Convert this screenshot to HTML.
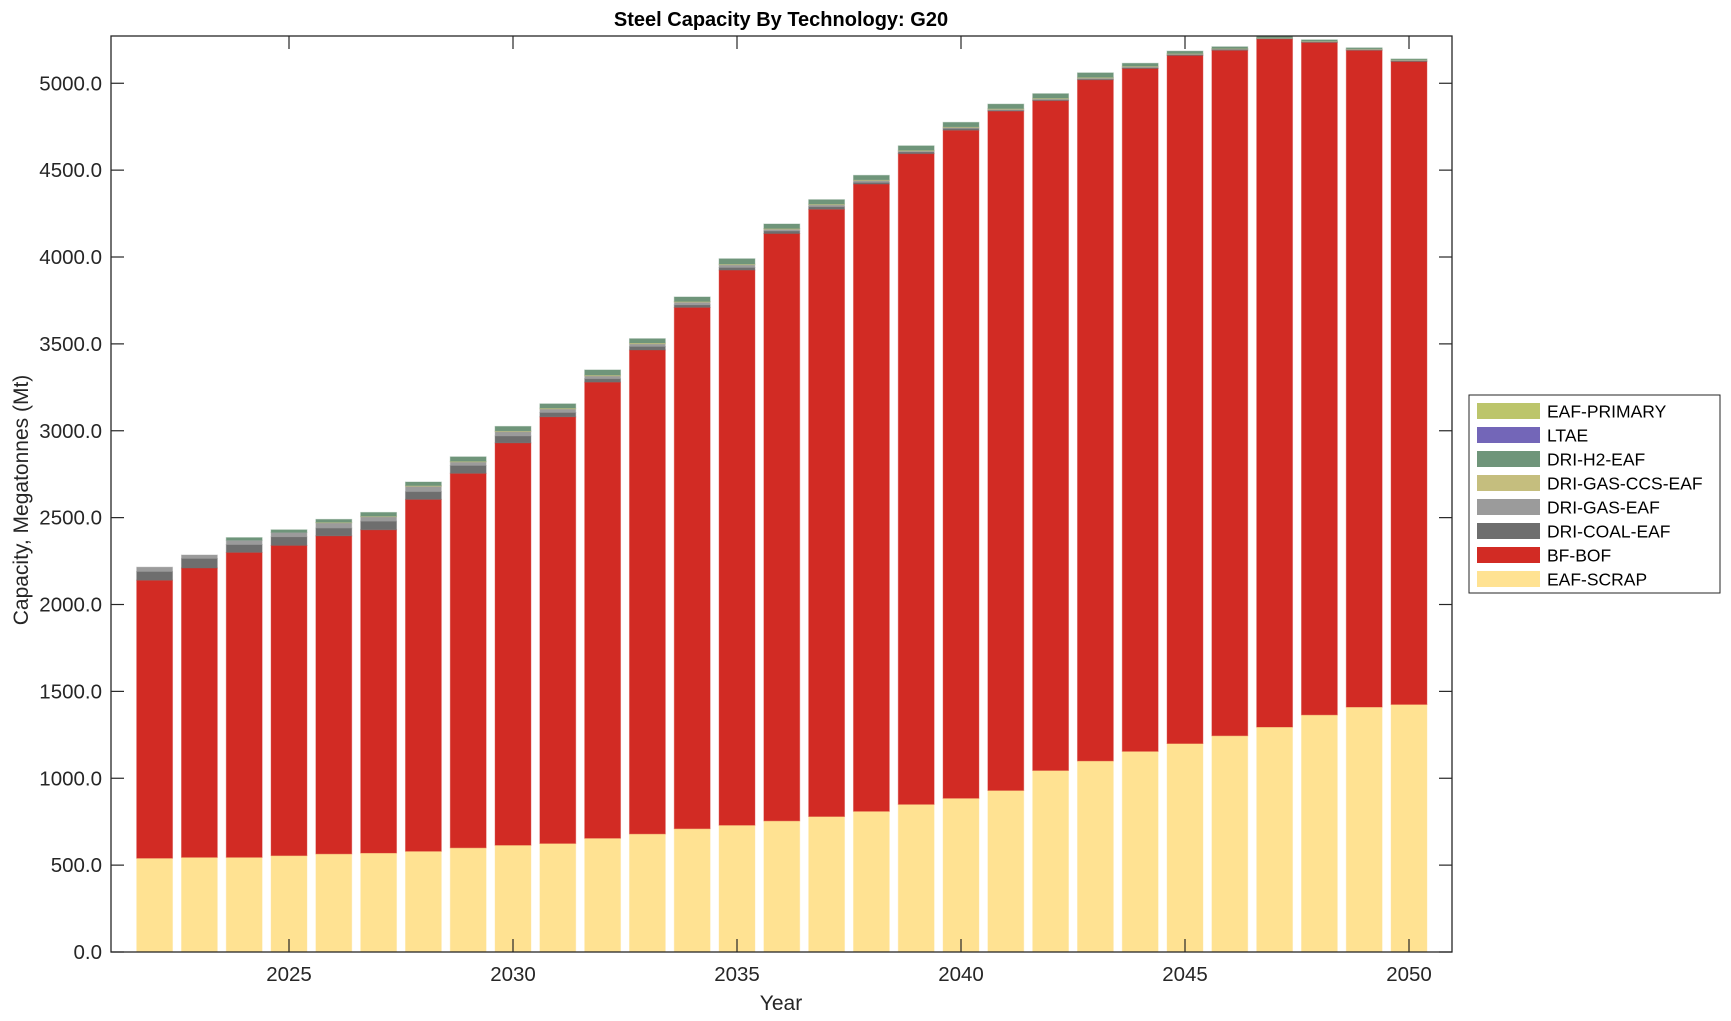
<!DOCTYPE html>
<html><head><meta charset="utf-8"><style>
html,body{margin:0;padding:0;background:#fff;}
svg{display:block;font-family:"Liberation Sans",Arial,sans-serif;}
</style></head><body>
<svg id="chart" width="1731" height="1021" viewBox="0 0 1731 1021">
<rect x="0" y="0" width="1731" height="1021" fill="#fff"/>
<text x="781" y="26" text-anchor="middle" font-size="20" font-weight="bold" fill="#000">Steel Capacity By Technology: G20</text>
<g id="bars"></g>
<g id="axes"></g>
<text x="781" y="1010" text-anchor="middle" font-size="21" fill="#262626">Year</text>
<text transform="translate(28,500) rotate(-90)" text-anchor="middle" font-size="21" fill="#262626">Capacity, Megatonnes (Mt)</text>
<g id="legend"></g>
</svg>
<script>
const years = [2022,2023,2024,2025,2026,2027,2028,2029,2030,2031,2032,2033,2034,2035,2036,2037,2038,2039,2040,2041,2042,2043,2044,2045,2046,2047,2048,2049,2050];
const eafScrap = [540,545,545,555,565,570,580,600,615,625,655,680,710,730,755,780,810,850,885,930,1045,1100,1155,1200,1245,1295,1365,1410,1425];
const bfBof = [1600,1665,1755,1785,1830,1860,2025,2155,2315,2455,2625,2785,3000,3195,3380,3495,3610,3745,3845,3910,3855,3920,3930,3960,3945,3960,3870,3780,3700];
const driCoal = [50,55,45,50,45,50,45,45,40,25,20,20,15,15,15,15,10,10,10,5,5,5,5,5,5,3,3,3,5];
const driGas = [25,20,25,25,30,25,30,20,25,20,15,15,15,15,10,10,10,5,5,5,5,5,5,3,3,2,2,3,3];
const driGasCcs = [0,0,0,0,3,3,4,4,4,5,5,5,4,4,4,4,4,4,4,4,4,4,3,3,2,2,2,2,2];
const driH2 = [0,0,15,15,17,22,21,26,26,25,30,25,26,31,26,26,26,26,26,26,26,26,17,14,10,8,8,6,5];
const ltae = [0,0,0,0,0,0,0,0,0,0,0,0,0,0,0,0,0,0,0,0,0,0,0,0,0,0,0,0,0];
const eafPrimary = [0,0,0,0,0,0,0,0,0,0,0,0,0,0,0,0,0,0,0,0,0,0,0,0,0,0,0,0,0];
const yTicks = [0,500,1000,1500,2000,2500,3000,3500,4000,4500,5000];
const xTicks = [2025,2030,2035,2040,2045,2050];
const seriesNames = ["EAF-SCRAP","BF-BOF","DRI-COAL-EAF","DRI-GAS-EAF","DRI-GAS-CCS-EAF","DRI-H2-EAF","LTAE","EAF-PRIMARY"];
const series = [eafScrap,bfBof,driCoal,driGas,driGasCcs,driH2,ltae,eafPrimary];
const colors = ["#FFE292","#D22B24","#6E6E6E","#9B9B9B","#C5BE7E","#6F957A","#7366B8","#BCC56B"];

const NS="http://www.w3.org/2000/svg";
const L=111,R=1452,T=36,B=952,YMAX=5272;
const pxYear=44.8, x2022=154.6;
function xs(yr){return x2022+(yr-2022)*pxYear;}
function ys(v){return B-(v/YMAX)*(B-T);}
function mk(tag,attrs,parent){const e=document.createElementNS(NS,tag);for(const k in attrs)e.setAttribute(k,attrs[k]);parent.appendChild(e);return e;}

const barsG=document.getElementById('bars');
const bw=pxYear*0.8;
years.forEach((yr,i)=>{
  let base=0;
  series.forEach((s,j)=>{
    const v=s[i];
    if(v<=0)return;
    const y0=ys(base),y1=ys(base+v);
    const r=mk('rect',{x:xs(yr)-bw/2,y:y1,width:bw,height:y0-y1,fill:colors[j],stroke:colors[j],'stroke-opacity':0.4,'stroke-width':1},barsG);
    
    
    base+=v;
  });
});

const ax=document.getElementById('axes');
const frame=mk('rect',{x:L,y:T,width:R-L,height:B-T,fill:'none',stroke:'#262626','stroke-width':1.3},ax);


yTicks.forEach(v=>{
  const y=ys(v);
  mk('line',{x1:L,x2:L+13,y1:y,y2:y,stroke:'#262626','stroke-width':1.2},ax);
  mk('line',{x1:R-13,x2:R,y1:y,y2:y,stroke:'#262626','stroke-width':1.2},ax);
  const t=mk('text',{x:102,y:y+7,'text-anchor':'end','font-size':20.5,fill:'#262626'},ax);
  t.textContent=v.toFixed(1);
  
  
});
xTicks.forEach(yr=>{
  const x=xs(yr);
  mk('line',{x1:x,x2:x,y1:B,y2:B-13,stroke:'#262626','stroke-width':1.2},ax);
  mk('line',{x1:x,x2:x,y1:T,y2:T+13,stroke:'#262626','stroke-width':1.2},ax);
  const t=mk('text',{x:x,y:981,'text-anchor':'middle','font-size':20.5,fill:'#262626'},ax);
  t.textContent=yr;
  
  
});

const lg=document.getElementById('legend');
const box=mk('rect',{x:1469,y:395,width:251,height:198,fill:'#fff',stroke:'#262626','stroke-width':1},lg);


for(let k=0;k<8;k++){
  const j=7-k;
  const cy=411+k*24;
  const sw=mk('rect',{x:1477,y:cy-8,width:63,height:16,fill:colors[j]},lg);
  
  
  const t=mk('text',{x:1547,y:cy+6.5,'font-size':17.5,fill:'#000'},lg);
  t.textContent=seriesNames[j];
  
  
}
</script>
</body></html>
